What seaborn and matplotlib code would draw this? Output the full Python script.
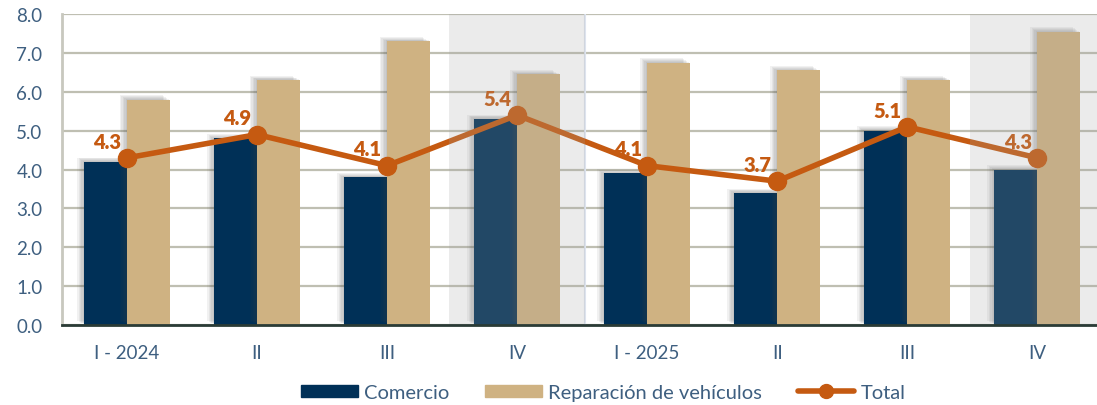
import numpy as np
import pandas as pd
import matplotlib
matplotlib.use("Agg")
import matplotlib.pyplot as plt
import matplotlib.patheffects as pe
from matplotlib.patches import Patch
from matplotlib.lines import Line2D
import seaborn as sns

# data
quarters = ["2024-I", "2024-II", "2024-III", "2024-IV",
            "2025-I", "2025-II", "2025-III", "2025-IV"]
tick_labels = ["I - 2024", "II", "III", "IV", "I - 2025", "II", "III", "IV"]
comercio = [4.2, 4.8, 3.8, 5.3, 3.9, 3.4, 5.0, 4.0]
reparacion = [5.8, 6.3, 7.3, 6.45, 6.75, 6.55, 6.3, 7.55]
total = [4.3, 4.9, 4.1, 5.4, 4.1, 3.7, 5.1, 4.3]

navy = "#003057"
tan = "#cfb282"
orange = "#c55a11"
txt = "#3e5f80"

df = pd.DataFrame({
    "trim": quarters * 2,
    "serie": ["Comercio"] * 8 + ["Reparación de vehículos"] * 8,
    "valor": comercio + reparacion,
})

sns.set_style("white")
plt.rcParams["font.family"] = ["Lato", "DejaVu Sans"]

fig = plt.figure(figsize=(10.97, 4.06), dpi=100)
ax = fig.add_axes([0.0565, 0.197, 0.9435, 0.766])

sns.barplot(data=df, x="trim", y="valor", hue="serie", order=quarters,
            palette=[navy, tan], width=0.66, saturation=1, legend=False,
            linewidth=0, ax=ax, zorder=3)
# soft shadow to the left of each bar
shadow = [pe.SimplePatchShadow(offset=(-k, k * 0.6), shadow_rgbFace="#444444", alpha=0.07)
          for k in (5, 4, 3, 2, 1)]
for p in ax.patches:
    p.set_path_effects(shadow + [pe.Normal()])

x = np.arange(len(quarters))
ax.plot(x, total, color=orange, lw=4, marker="o", ms=13, zorder=5)
for xi, v in zip(x, total):
    ax.annotate(f"{v:.1f}", (xi, v), xytext=(-14, 12), textcoords="offset points",
                ha="center", va="center", color=orange, fontsize=14.5,
                fontweight="heavy", zorder=6)

# shaded IV quarters drawn on top
for c in (3, 7):
    ax.axvspan(c - 0.52, c + 0.52, color=(162 / 255, 162 / 255, 162 / 255),
               alpha=0.21, lw=0, zorder=8)
ax.axvline(3.52, color="#dde3ee", lw=1.5, zorder=1)

ax.set_ylim(0, 8)
ax.set_xlim(-0.5, 7.46)
ax.set_yticks(np.arange(0, 8.1, 1))
ax.set_yticklabels([f"{v:.1f}" for v in np.arange(0, 8.1, 1)])
ax.set_xticks(x)
ax.set_xticklabels(tick_labels)
ax.set_xlabel("")
ax.set_ylabel("")
ax.grid(axis="y", color="#bfbfb2", lw=1.6, zorder=0)
ax.tick_params(axis="both", length=0, labelcolor=txt, labelsize=13.5)
ax.tick_params(axis="x", pad=14)
ax.tick_params(axis="y", pad=14)
for s in ["top", "right"]:
    ax.spines[s].set_visible(False)
ax.spines["left"].set_color("#c8c8be")
ax.spines["left"].set_linewidth(2)
ax.spines["bottom"].set_color("#2a3b36")
ax.spines["bottom"].set_linewidth(2)
ax.spines["bottom"].set_zorder(9)

handles = [Patch(color=navy, label="Comercio"),
           Patch(color=tan, label="Reparación de vehículos"),
           Line2D([], [], color=orange, lw=4, marker="o", ms=10, label="Total")]
fig.legend(handles=handles, loc="lower center", bbox_to_anchor=(0.55, -0.035), ncol=3,
           frameon=False, fontsize=14.5, labelcolor=txt, handlelength=2.8,
           handleheight=0.55, columnspacing=1.8, handletextpad=0.3)

fig.savefig("out.png", dpi=100)
